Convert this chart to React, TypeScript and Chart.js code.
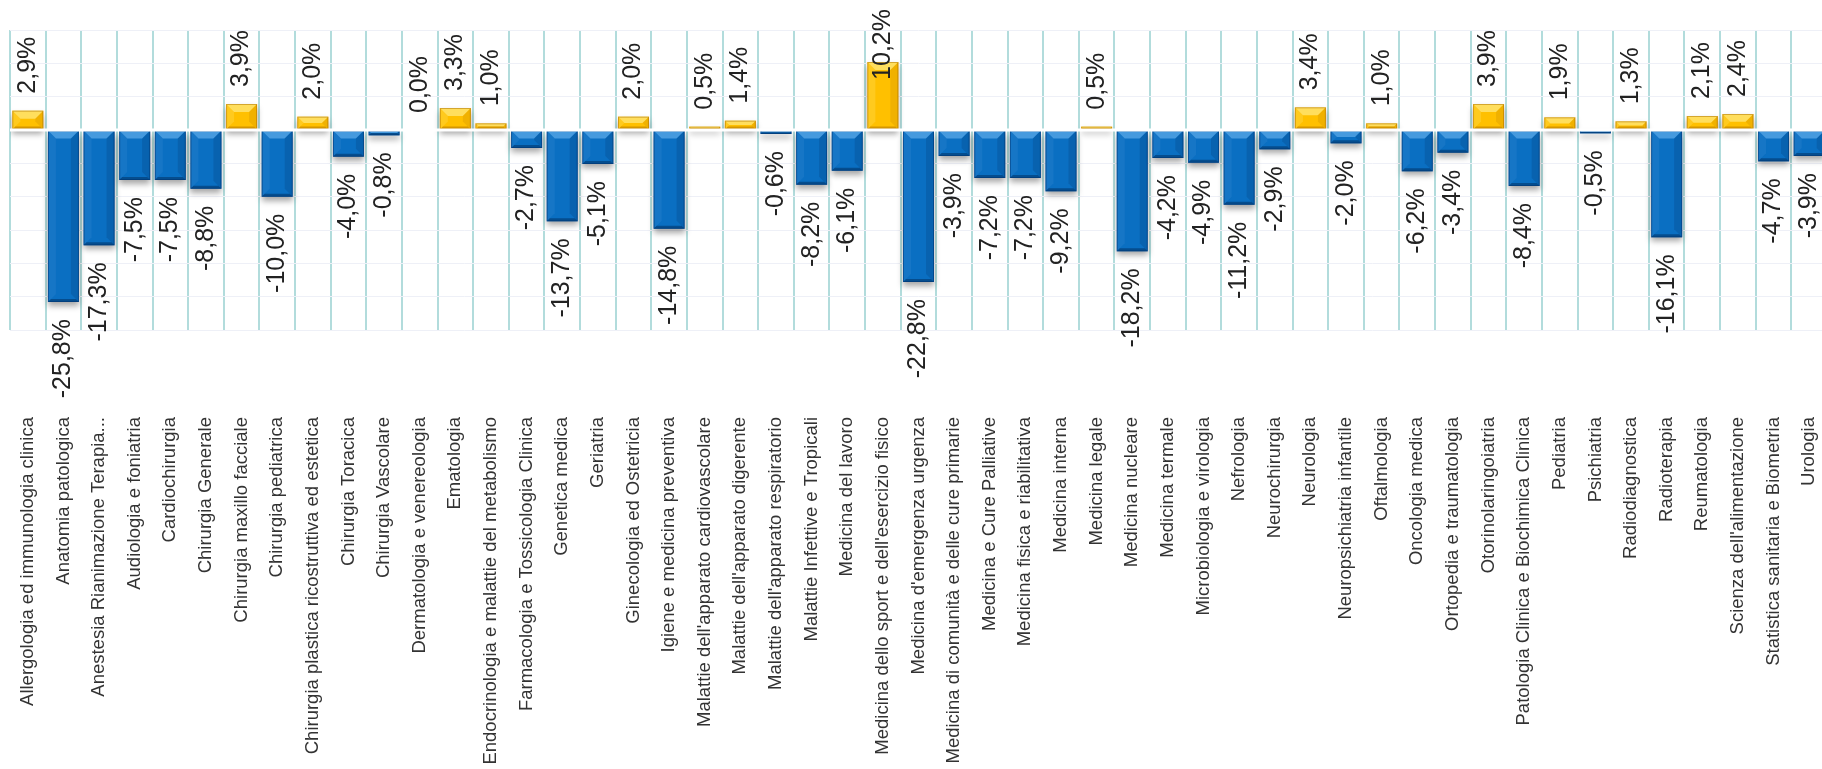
import React, { useEffect, useRef } from "react";
import { Chart, registerables } from "chart.js";

Chart.register(...registerables);

const categories: string[] = [
  "Allergologia ed immunologia clinica",
  "Anatomia patologica",
  "Anestesia Rianimazione Terapia...",
  "Audiologia e foniatria",
  "Cardiochirurgia",
  "Chirurgia Generale",
  "Chirurgia maxillo facciale",
  "Chirurgia pediatrica",
  "Chirurgia plastica ricostruttiva ed estetica",
  "Chirurgia Toracica",
  "Chirurgia Vascolare",
  "Dermatologia e venereologia",
  "Ematologia",
  "Endocrinologia e malattie del metabolismo",
  "Farmacologia e Tossicologia Clinica",
  "Genetica medica",
  "Geriatria",
  "Ginecologia ed Ostetricia",
  "Igiene e medicina preventiva",
  "Malattie dell'apparato cardiovascolare",
  "Malattie dell'apparato digerente",
  "Malattie dell'apparato respiratorio",
  "Malattie Infettive e Tropicali",
  "Medicina del lavoro",
  "Medicina dello sport e dell'esercizio fisico",
  "Medicina d'emergenza urgenza",
  "Medicina di comunità e delle cure primarie",
  "Medicina e Cure Palliative",
  "Medicina fisica e riabilitativa",
  "Medicina interna",
  "Medicina legale",
  "Medicina nucleare",
  "Medicina termale",
  "Microbiologia e virologia",
  "Nefrologia",
  "Neurochirurgia",
  "Neurologia",
  "Neuropsichiatria infantile",
  "Oftalmologia",
  "Oncologia medica",
  "Ortopedia e traumatologia",
  "Otorinolaringoiatria",
  "Patologia Clinica e Biochimica Clinica",
  "Pediatria",
  "Psichiatria",
  "Radiodiagnostica",
  "Radioterapia",
  "Reumatologia",
  "Scienza dell'alimentazione",
  "Statistica sanitaria e Biometria",
  "Urologia",
];

const values: number[] = [
  2.9, -25.8, -17.3, -7.5, -7.5, -8.8, 3.9, -10.0, 2.0, -4.0,
  -0.8, 0.0, 3.3, 1.0, -2.7, -13.7, -5.1, 2.0, -14.8, 0.5,
  1.4, -0.6, -8.2, -6.1, 10.2, -22.8, -3.9, -7.2, -7.2, -9.2,
  0.5, -18.2, -4.2, -4.9, -11.2, -2.9, 3.4, -2.0, 1.0, -6.2,
  -3.4, 3.9, -8.4, 1.9, -0.5, 1.3, -16.1, 2.1, 2.4, -4.7,
  -3.9,
];

const yMin = -30;
const yMax = 15;
const yStep = 5;

const POS_COLOR = "#FFC000";
const NEG_COLOR = "#0A6FC2";
const LABEL_FONT = "'Liberation Sans', Arial, sans-serif";

function fmt(v: number): string {
  return v.toFixed(1).replace(".", ",") + "%";
}

const bevelPlugin = {
  id: "bevelAndLabels",
  beforeDatasetsDraw(chart: any) {
    const ctx = chart.ctx;
    ctx.save();
    ctx.shadowColor = "rgba(0,0,0,0.35)";
    ctx.shadowBlur = 6;
    ctx.shadowOffsetX = 0;
    ctx.shadowOffsetY = 4;
  },
  afterDatasetsDraw(chart: any) {
    const ctx = chart.ctx;
    ctx.restore();
    const meta = chart.getDatasetMeta(0);
    const yScale = chart.scales.y;
    const zeroY = yScale.getPixelForValue(0);
    const area = chart.chartArea;

    meta.data.forEach((el: any, i: number) => {
      const v = values[i];
      const { x, y, base, width } = el.getProps(["x", "y", "base", "width"], true);
      const l = x - width / 2;
      const r = x + width / 2;
      const t = Math.min(y, base);
      const btm = Math.max(y, base);
      const h = btm - t;
      if (h < 0.5) return;
      const b = Math.min(8, h / 2, width / 2);
      const pos = v >= 0;
      ctx.save();
      ctx.fillStyle = pos ? "rgba(255,245,170,0.55)" : "rgba(120,190,245,0.55)";
      ctx.beginPath();
      ctx.moveTo(l, t);
      ctx.lineTo(r, t);
      ctx.lineTo(r - b, t + b);
      ctx.lineTo(l + b, t + b);
      ctx.closePath();
      ctx.fill();
      ctx.fillStyle = pos ? "rgba(255,230,120,0.25)" : "rgba(60,140,210,0.25)";
      ctx.beginPath();
      ctx.moveTo(l, t);
      ctx.lineTo(l + b, t + b);
      ctx.lineTo(l + b, btm - b);
      ctx.lineTo(l, btm);
      ctx.closePath();
      ctx.fill();
      ctx.fillStyle = pos ? "rgba(170,110,0,0.18)" : "rgba(0,40,90,0.18)";
      ctx.beginPath();
      ctx.moveTo(r, t);
      ctx.lineTo(r - b, t + b);
      ctx.lineTo(r - b, btm - b);
      ctx.lineTo(r, btm);
      ctx.closePath();
      ctx.fill();
      const bb = Math.min(3, h / 2);
      ctx.fillStyle = pos ? "rgba(160,100,0,0.45)" : "rgba(0,35,80,0.45)";
      ctx.beginPath();
      ctx.moveTo(l, btm);
      ctx.lineTo(r, btm);
      ctx.lineTo(r - bb, btm - bb);
      ctx.lineTo(l + bb, btm - bb);
      ctx.closePath();
      ctx.fill();
      ctx.strokeStyle = pos ? "rgba(170,110,0,0.5)" : "rgba(0,50,110,0.5)";
      ctx.lineWidth = 1;
      ctx.strokeRect(l + 0.5, t + 0.5, width - 1, h - 1);
      ctx.restore();
    });

    ctx.save();
    ctx.strokeStyle = "#ffffff";
    ctx.lineWidth = 3;
    ctx.beginPath();
    ctx.moveTo(area.left, zeroY);
    ctx.lineTo(area.right, zeroY);
    ctx.stroke();
    ctx.restore();

    ctx.save();
    ctx.font = "25px " + LABEL_FONT;
    ctx.fillStyle = "#222222";
    ctx.textBaseline = "middle";
    meta.data.forEach((el: any, i: number) => {
      const v = values[i];
      const { x, y, base } = el.getProps(["x", "y", "base"], true);
      const text = fmt(v);
      const len = ctx.measureText(text).width;
      const gap = 17;
      ctx.save();
      if (v >= 0) {
        const top = Math.min(y, base);
        let start = top - gap;
        if (start - len < 9) start = 9 + len;
        ctx.translate(x, start);
        ctx.rotate(-Math.PI / 2);
        ctx.textAlign = "left";
        ctx.fillText(text, 0, 0);
      } else {
        const bottom = Math.max(y, base);
        const end = bottom + gap;
        ctx.translate(x, end);
        ctx.rotate(-Math.PI / 2);
        ctx.textAlign = "right";
        ctx.fillText(text, 0, 0);
      }
      ctx.restore();
    });
    ctx.restore();
  },
};

export default function App() {
  const canvasRef = useRef<HTMLCanvasElement | null>(null);

  useEffect(() => {
    const canvas = canvasRef.current;
    if (!canvas) return;
    const chart = new Chart(canvas, {
      type: "bar",
      data: {
        labels: categories,
        datasets: [
          {
            data: values,
            backgroundColor: values.map((v) => (v >= 0 ? POS_COLOR : NEG_COLOR)),
            borderWidth: 0,
            categoryPercentage: 1,
            barPercentage: 0.87,
          },
        ],
      },
      options: {
        responsive: false,
        animation: false,
        devicePixelRatio: 1,
        layout: { padding: { left: 10, right: 13, top: 30, bottom: 0 } },
        plugins: {
          legend: { display: false },
          tooltip: { enabled: false },
        },
        scales: {
          x: {
            grid: { color: "#b2dcdc", lineWidth: 2, offset: true, drawTicks: false },
            border: { display: false },
            ticks: {
              autoSkip: false,
              maxRotation: 90,
              minRotation: 90,
              padding: 87,
              color: "#333333",
              font: { family: LABEL_FONT, size: 18.5 },
            },
            afterFit(scale: any) {
              scale.height = 439;
              scale.paddingLeft = 0;
              scale.paddingRight = 0;
            },
          },
          y: {
            min: yMin,
            max: yMax,
            ticks: { stepSize: yStep, display: false },
            grid: { color: "#eef0f7", lineWidth: 1, drawTicks: false },
            border: { display: false },
            afterFit(scale: any) {
              scale.width = 0;
              scale.paddingTop = 0;
              scale.paddingBottom = 0;
            },
          },
        },
      },
      plugins: [bevelPlugin],
    } as any);
    return () => chart.destroy();
  }, []);

  return (
    <div
      style={{
        position: "fixed",
        left: 0,
        top: 0,
        width: 1822,
        height: 769,
        overflow: "hidden",
        background: "#ffffff",
      }}
    >
      <canvas
        ref={canvasRef}
        width={1840}
        height={769}
        style={{ display: "block", width: 1840, height: 769 }}
      />
    </div>
  );
}
